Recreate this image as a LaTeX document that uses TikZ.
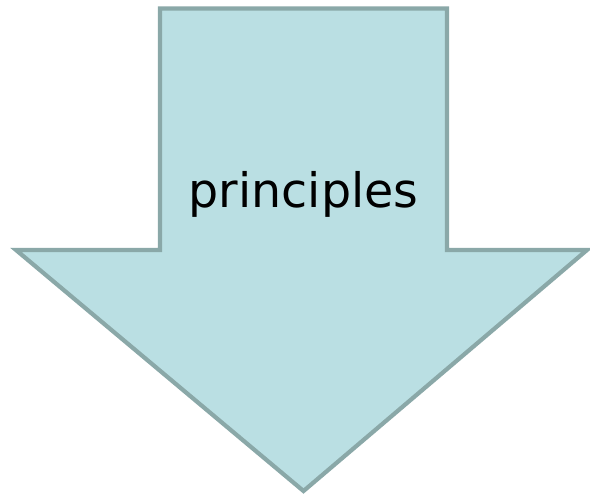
\documentclass[tikz,border=0pt]{standalone}
\usepackage{fontspec}
\setmainfont{DejaVu Sans}
\definecolor{arrowfill}{HTML}{BADFE3}
\definecolor{arrowline}{HTML}{8AA8A8}
\tikzset{bigarrow/.style={fill=arrowfill,draw=arrowline,line width=4.2pt,line join=miter},
  lbl/.style={font=\fontsize{47.5}{52}\selectfont,text=black,inner sep=0pt}}
\begin{document}
\begin{tikzpicture}[x=1pt,y=-1pt]
\useasboundingbox (0,0) rectangle (590,496);
\draw[bigarrow] (160,8.5) -- (447,8.5) -- (447,250) -- (587,250) -- (303.5,491) -- (16,250) -- (160,250) -- cycle;
\node[lbl,anchor=base] (label) at (303.5,207) {principles};
\end{tikzpicture}
\end{document}
